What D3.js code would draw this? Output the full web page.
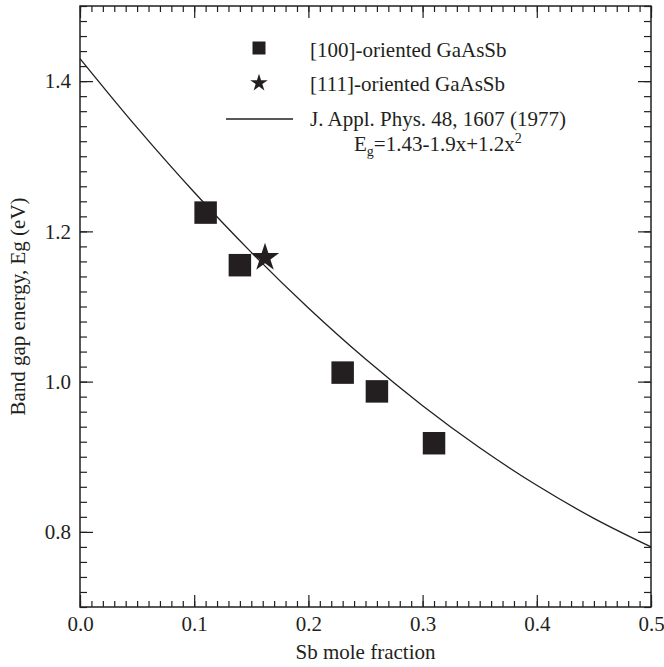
<!DOCTYPE html>
<html>
<head>
<meta charset="utf-8">
<script src="https://cdn.jsdelivr.net/npm/d3@7"></script>
<style>
    body { margin: 0; background: #fff; }
    svg text { font-family: "Liberation Serif", "DejaVu Serif", serif; fill: #231f20; }
</style>
</head>
<body>
<svg id="chart" width="664" height="667"></svg>
<script>
// [100]-oriented samples
let sb100 = [0.11, 0.14, 0.23, 0.26, 0.31];
let eg100 = [1.225, 1.155, 1.012, 0.987, 0.918];
// [111]-oriented sample
let sb111 = [0.162];
let eg111 = [1.165];
// reference curve J. Appl. Phys. 48, 1607 (1977)
let curveX = [0, 0.05, 0.1, 0.15, 0.2, 0.25, 0.3, 0.35, 0.4, 0.45, 0.5];
let curveEg = [1.43, 1.338, 1.252, 1.172, 1.098, 1.03, 0.968, 0.912, 0.862, 0.818, 0.78];
// tick labels
let xTicks = [0, 0.1, 0.2, 0.3, 0.4, 0.5];
let yTicks = [0.8, 1.0, 1.2, 1.4];

let svg = d3.select('#chart'),
    margin = {top: 6, right: 13, bottom: 60, left: 80},
    width = +svg.attr('width') - margin.left - margin.right,
    height = +svg.attr('height') - margin.top - margin.bottom;

let ink = '#231f20';
let fontSize = '21px';

let xScale = d3.scaleLinear().domain([0, 0.5]).range([0, width]);
let yScale = d3.scaleLinear().domain([0.7, 1.5]).range([height, 0]);

let g = svg.append('g')
    .attr('transform', 'translate(' + margin.left + ',' + margin.top + ')');

// minor ticks on every side (inward)
let xMinor = d3.range(0, 0.5001, 0.01);
let yMinor = d3.range(0.7, 1.5001, 0.02);
function addAxis(axis, tx, ty) {
    let a = g.append('g')
        .attr('transform', 'translate(' + tx + ',' + ty + ')')
        .call(axis);
    a.select('.domain').remove();
    a.selectAll('line').attr('stroke', ink).attr('stroke-width', 1.2);
    return a;
}
addAxis(d3.axisBottom(xScale).tickValues(xMinor).tickSize(-6).tickFormat(''), 0, height);
addAxis(d3.axisTop(xScale).tickValues(xMinor).tickSize(-6).tickFormat(''), 0, 0);
addAxis(d3.axisLeft(yScale).tickValues(yMinor).tickSize(-7).tickFormat(''), 0, 0);
addAxis(d3.axisRight(yScale).tickValues(yMinor).tickSize(-7).tickFormat(''), width, 0);

// major ticks with labels
let xAx = addAxis(d3.axisBottom(xScale).tickValues(xTicks).tickSize(-12).tickPadding(9)
    .tickFormat(d3.format('.1f')), 0, height);
addAxis(d3.axisTop(xScale).tickValues(xTicks).tickSize(-12).tickFormat(''), 0, 0);
let yAx = addAxis(d3.axisLeft(yScale).tickValues(yTicks).tickSize(-13).tickPadding(9)
    .tickFormat(d3.format('.1f')), 0, 0);
addAxis(d3.axisRight(yScale).tickValues(yTicks).tickSize(-13).tickFormat(''), width, 0);

xAx.selectAll('text').style('font-size', fontSize).attr('fill', ink);
yAx.selectAll('text').style('font-size', fontSize).attr('fill', ink);

// frame
g.append('rect')
    .attr('width', width).attr('height', height)
    .attr('fill', 'none').attr('stroke', ink).attr('stroke-width', 1.5);

// axis titles
g.append('text')
    .attr('x', width / 2).attr('y', height + 52)
    .attr('text-anchor', 'middle')
    .style('font-size', fontSize)
    .text('Sb mole fraction');

g.append('text')
    .attr('transform', 'translate(' + (25 - margin.left) + ',' + (height / 2) + ') rotate(-90)')
    .attr('text-anchor', 'middle')
    .style('font-size', fontSize)
    .text('Band gap energy, Eg (eV)');

// reference curve
let line = d3.line()
    .x(function (d) { return xScale(d[0]); })
    .y(function (d) { return yScale(d[1]); })
    .curve(d3.curveCatmullRom);

g.append('path')
    .datum(d3.zip(curveX, curveEg))
    .attr('d', line)
    .attr('fill', 'none')
    .attr('stroke', ink)
    .attr('stroke-width', 1.3);

// square markers
g.selectAll('.sq')
    .data(d3.zip(sb100, eg100))
    .enter().append('path')
    .classed('sq', true)
    .attr('transform', function (d) {
        return 'translate(' + xScale(d[0]) + ',' + yScale(d[1]) + ')';
    })
    .attr('d', d3.symbol(d3.symbolSquare, 506))
    .attr('fill', ink);

// star marker
g.selectAll('.star')
    .data(d3.zip(sb111, eg111))
    .enter().append('path')
    .classed('star', true)
    .attr('transform', function (d) {
        return 'translate(' + xScale(d[0]) + ',' + yScale(d[1]) + ')';
    })
    .attr('d', d3.symbol(d3.symbolStar, 250))
    .attr('fill', ink);

// legend
let legend = svg.append('g');
legend.append('path')
    .attr('transform', 'translate(259,48)')
    .attr('d', d3.symbol(d3.symbolSquare, 169))
    .attr('fill', ink);
legend.append('text')
    .attr('x', 310).attr('y', 57)
    .style('font-size', fontSize)
    .text('[100]-oriented GaAsSb');

legend.append('path')
    .attr('transform', 'translate(259,83)')
    .attr('d', d3.symbol(d3.symbolStar, 95))
    .attr('fill', ink);
legend.append('text')
    .attr('x', 310).attr('y', 91)
    .style('font-size', fontSize)
    .text('[111]-oriented GaAsSb');

legend.append('line')
    .attr('x1', 226).attr('x2', 293)
    .attr('y1', 119).attr('y2', 119)
    .attr('stroke', ink).attr('stroke-width', 1.3);
legend.append('text')
    .attr('x', 310).attr('y', 126)
    .style('font-size', fontSize)
    .text('J. Appl. Phys. 48, 1607 (1977)');

let eq = legend.append('text')
    .attr('x', 354).attr('y', 151)
    .style('font-size', fontSize);
eq.append('tspan').text('E');
eq.append('tspan').attr('dy', 5).style('font-size', '14px').text('g');
eq.append('tspan').attr('dy', -5).text('=1.43-1.9x+1.2x');
eq.append('tspan').attr('dy', -8).style('font-size', '14px').text('2');
</script>
</body>
</html>
